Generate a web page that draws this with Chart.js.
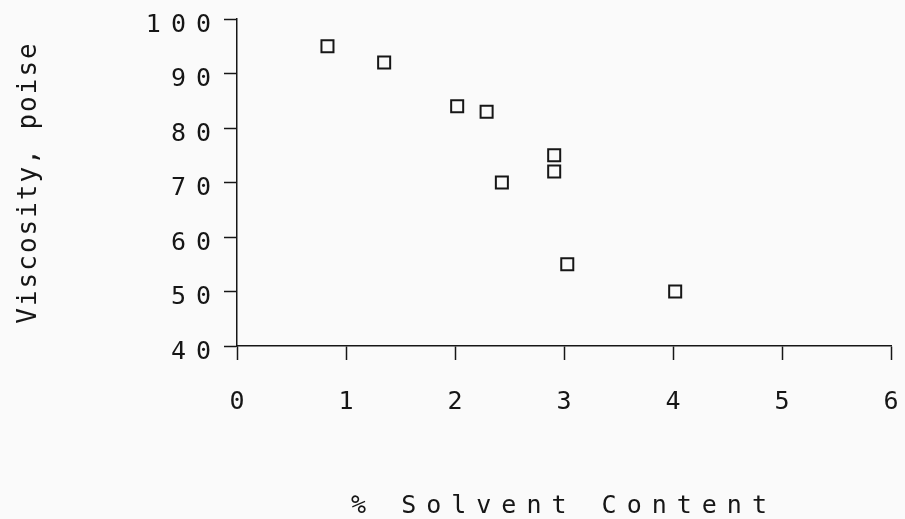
<!DOCTYPE html>
<html>
<head>
<meta charset="utf-8">
<script src="https://cdn.jsdelivr.net/npm/chart.js@4.4.1/dist/chart.umd.min.js"></script>
<style>
  html, body { margin: 0; padding: 0; background: #fafafa; }
  #wrap { width: 905px; height: 519px; position: relative; }
</style>
</head>
<body>
<div id="wrap"><canvas id="viscChart"></canvas></div>
<script>
/* Viscosity vs solvent content - scatter, plotter style */

const solventPct = [0.83, 1.35, 2.02, 2.29, 2.43, 2.91, 2.91, 3.03, 4.02];
const viscosity = [95, 92, 84, 83, 70, 75, 72, 55, 50];

const xTicks = [0, 1, 2, 3, 4, 5, 6];
const yTicks = [40, 50, 60, 70, 80, 90, 100];

const xTitle = '% Solvent Content';
const yTitle = 'Viscosity, poise';

const INK = '#161616';
const FONT = '"DejaVu Sans Mono", "Liberation Mono", monospace';
const WIDE = '10px';   // plotter font is wide, fake it with letter spacing
const NARROW = '2px';

const points = solventPct.map((x, i) => ({ x, y: viscosity[i] }));

// letter spacing is not a Chart.js option, so set it on the context
const plotterSpacing = {
  id: 'plotterSpacing',
  beforeDraw(chart) {
    chart.ctx.letterSpacing = WIDE;
  },
  afterLayout(chart) {
    const y = chart.scales.y;
    if (!y || y._narrowTitle) return;
    const orig = y.drawTitle.bind(y);
    y.drawTitle = function () {
      const c = this.ctx;
      const prev = c.letterSpacing;
      c.letterSpacing = NARROW;
      orig();
      c.letterSpacing = prev;
    };
    y._narrowTitle = true;
  },
};

const canvas = document.getElementById('viscChart');
const ctx = canvas.getContext('2d');
ctx.letterSpacing = WIDE;

new Chart(ctx, {
  type: 'scatter',
  data: {
    datasets: [{
      label: 'Viscosity',
      data: points,
      pointStyle: 'rect',
      pointRadius: 8.5,
      pointHoverRadius: 8.5,
      borderColor: INK,
      borderWidth: 2,
      backgroundColor: 'rgba(0,0,0,0)',
    }],
  },
  options: {
    responsive: true,
    maintainAspectRatio: false,
    animation: false,
    events: [],
    layout: { padding: { top: 19, right: 14, left: 0, bottom: 0 } },
    plugins: {
      legend: { display: false },
      tooltip: { enabled: false },
    },
    scales: {
      x: {
        type: 'linear',
        min: 0,
        max: 6,
        afterBuildTicks(scale) {
          scale.ticks = xTicks.map((v) => ({ value: v }));
        },
        afterFit(scale) {
          scale.height = 173;
          scale.paddingLeft = 0;
          scale.paddingRight = 0;
        },
        grid: {
          drawOnChartArea: false,
          drawTicks: true,
          tickLength: 14,
          tickWidth: 1.5,
          tickColor: INK,
        },
        border: { color: INK, width: 1.5 },
        ticks: {
          autoSkip: false,
          maxRotation: 0,
          padding: 27,
          labelOffset: 5,
          color: INK,
          font: { family: FONT, size: 25 },
        },
        title: {
          display: true,
          text: xTitle,
          color: INK,
          font: { family: FONT, size: 25, lineHeight: 1 },
          padding: { top: 0, bottom: 0 },
        },
      },
      y: {
        type: 'linear',
        min: 40,
        max: 100,
        afterBuildTicks(scale) {
          scale.ticks = yTicks.map((v) => ({ value: v }));
        },
        afterFit(scale) {
          scale.width = 237;
          scale.paddingTop = 0;
          scale.paddingBottom = 0;
        },
        grid: {
          drawOnChartArea: false,
          drawTicks: true,
          tickLength: 13,
          tickWidth: 1.5,
          tickColor: INK,
        },
        border: { color: INK, width: 1.5 },
        ticks: {
          autoSkip: false,
          padding: 3,
          labelOffset: 6,
          color: INK,
          font: { family: FONT, size: 25 },
        },
        title: {
          display: true,
          text: yTitle,
          color: INK,
          font: { family: FONT, size: 26, lineHeight: 1 },
          padding: { top: 16, bottom: 0 },
        },
      },
    },
  },
  plugins: [plotterSpacing],
});
</script>
</body>
</html>
